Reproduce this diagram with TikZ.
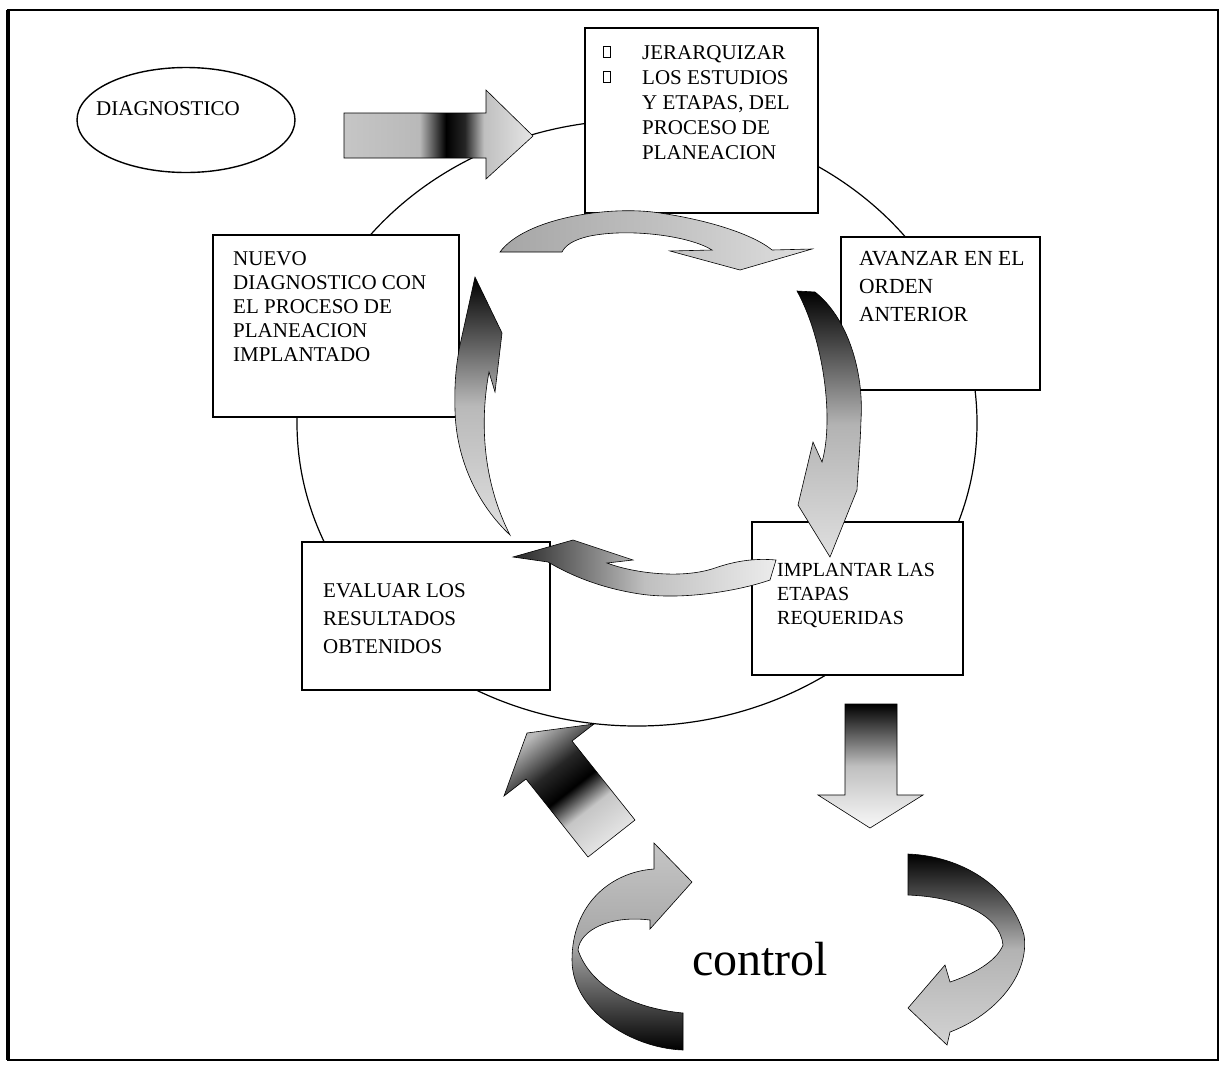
\documentclass[tikz,border=0pt]{standalone}
\usepackage{fontspec}
\setmainfont{Liberation Serif}
\usetikzlibrary{shapes.geometric}

% grey ramps for the block arrows
\pgfdeclarehorizontalshading{diagshade}{100bp}{color(0bp)=(gray!45); color(25bp)=(gray!45); color(45bp)=(gray!55); color(52bp)=(black); color(57bp)=(black!85); color(62bp)=(gray!50); color(75bp)=(gray!20); color(100bp)=(gray!20)}
\pgfdeclareverticalshading{upshade}{100bp}{color(0bp)=(gray!20); color(25bp)=(gray!20); color(40bp)=(gray!45); color(50bp)=(black); color(60bp)=(black!85); color(75bp)=(gray!55); color(100bp)=(gray!55)}

\begin{document}
\begin{tikzpicture}[x=1pt,y=-1pt,
  box/.style={draw=black, line width=1.5pt, fill=white, rectangle, inner sep=0pt},
  boxtext/.style={anchor=north west, align=left, inner sep=0pt, font=\fontsize{21}{25}\selectfont},
  blockarrow/.style={draw=black, line width=0.6pt},
]
\useasboundingbox (0,0) rectangle (1222,1069);
\fill[white] (0,0) rectangle (1222,1069);

% outer frame, heavier on the left side
\draw[line width=2.2pt] (8,10) rectangle (1218,1060);
\draw[line width=3.5pt] (8,10) -- (8,1060);

% the planning cycle
\node[draw, ellipse, line width=1.2pt, minimum width=680pt, minimum height=606pt, inner sep=0pt] (ring) at (637,423) {};

% starting point
\node[draw, ellipse, line width=1.4pt, minimum width=218pt, minimum height=105pt, inner sep=0pt] (diag) at (186,120) {};
\node[boxtext, anchor=base west, font=\fontsize{21}{24}\selectfont] (diagtext) at (96,115) {DIAGNOSTICO};

% stage boxes
\node[box, minimum width=233pt, minimum height=185pt] (jbox) at (701.5,120.5) {};
\node[box, minimum width=246pt, minimum height=182pt] (nbox) at (336,326) {};
\node[box, minimum width=199pt, minimum height=153pt] (abox) at (940.5,313.5) {};
\node[box, minimum width=248pt, minimum height=148pt] (ebox) at (426,616) {};
\node[box, minimum width=211pt, minimum height=153pt] (ibox) at (857.5,598.5) {};

\draw[line width=0.8pt] (603,46) rectangle (610,57);
\draw[line width=0.8pt] (603,71) rectangle (610,82);

\node[boxtext] (jtext) at (642,45) {JERARQUIZAR\\LOS ESTUDIOS\\Y ETAPAS, DEL\\PROCESO DE\\PLANEACION};
\node[boxtext, font=\fontsize{21}{24}\selectfont] (ntext) at (233,251) {NUEVO\\DIAGNOSTICO CON\\EL PROCESO DE\\PLANEACION\\IMPLANTADO};
\node[boxtext, font=\fontsize{21.5}{28}\selectfont] (atext) at (859,251) {AVANZAR EN EL\\ORDEN\\ANTERIOR};
\node[boxtext, font=\fontsize{21}{28}\selectfont] (etext) at (323,583) {EVALUAR LOS\\RESULTADOS\\OBTENIDOS};
\node[boxtext, font=\fontsize{20}{24}\selectfont] (itext) at (777,563) {IMPLANTAR LAS\\ETAPAS\\REQUERIDAS};

% arrow from the diagnosis into the cycle
\shadedraw[blockarrow, shading=diagshade] (344,113) -- (486,113) -- (486,90) -- (533,136) -- (486,179) -- (486,158) -- (344,158) -- cycle;

% inner curved arrows, clockwise
\shadedraw[blockarrow, left color=gray!70, right color=gray!25, middle color=gray!50]
  (500,252) .. controls (525,218) and (610,205) .. (660,213)
  .. controls (720,222) and (758,238) .. (772,250)
  -- (812,249) -- (740,270) -- (670,251) -- (712,250)
  .. controls (690,236) and (630,228) .. (590,236)
  .. controls (572,240) and (565,246) .. (562,252) -- cycle;

\shadedraw[blockarrow, top color=black, bottom color=gray!25, middle color=gray!60]
  (797,291) -- (815,292)
  .. controls (848,318) and (864,372) .. (861,420)
  .. controls (860,450) and (858,470) .. (857,490)
  -- (830,557) -- (798,505) -- (813,442) -- (822,462)
  .. controls (834,420) and (824,340) .. (797,291) -- cycle;

\shadedraw[blockarrow, left color=black!85, right color=gray!15, middle color=gray!50]
  (776,560) -- (770,580)
  .. controls (735,592) and (680,600) .. (640,594)
  .. controls (600,588) and (570,575) .. (548,562)
  -- (513,557) -- (573,540) -- (633,560) -- (607,563)
  .. controls (630,572) and (680,580) .. (715,568)
  .. controls (735,561) and (755,558) .. (776,560) -- cycle;

\shadedraw[blockarrow, top color=black, bottom color=gray!25, middle color=gray!55]
  (510,535) .. controls (478,505) and (456,460) .. (455,410)
  .. controls (454,380) and (457,360) .. (460,345)
  -- (475,277) -- (502,333) -- (495,392) -- (489,372)
  .. controls (480,420) and (482,480) .. (510,535) -- cycle;

% feedback arrows to and from control
\shadedraw[blockarrow, shading=upshade, shading angle=38]
  (635,820) -- (572,741) -- (594,724) -- (527,733) -- (504,796) -- (526,779) -- (588,857) -- cycle;

\shadedraw[blockarrow, top color=black, bottom color=gray!5, middle color=gray!50]
  (845,704) -- (897,704) -- (897,795) -- (923,795) -- (870,828) -- (818,795) -- (845,795) -- cycle;

\shadedraw[blockarrow, top color=gray!45, bottom color=black, middle color=gray!70]
  (683,1050) .. controls (630,1048) and (572,1010) .. (572,960)
  .. controls (572,905) and (610,872) .. (654,869)
  -- (654,843) -- (692,882) -- (650,929) -- (650,920)
  .. controls (610,915) and (580,930) .. (578,950)
  .. controls (590,985) and (630,1008) .. (683,1013) -- cycle;

\shadedraw[blockarrow, top color=black, bottom color=gray!35, middle color=gray!60]
  (908,854) .. controls (960,856) and (1010,885) .. (1024,935)
  .. controls (1030,975) and (995,1015) .. (950,1032)
  -- (947,1045) -- (908,1008) -- (945,965) -- (950,982)
  .. controls (980,972) and (998,958) .. (1003,945)
  .. controls (1000,915) and (960,897) .. (908,895) -- cycle;

\node[anchor=base, inner sep=0pt, font=\fontsize{48}{48}\selectfont] (ctrl) at (760,975) {control};
\end{tikzpicture}
\end{document}
